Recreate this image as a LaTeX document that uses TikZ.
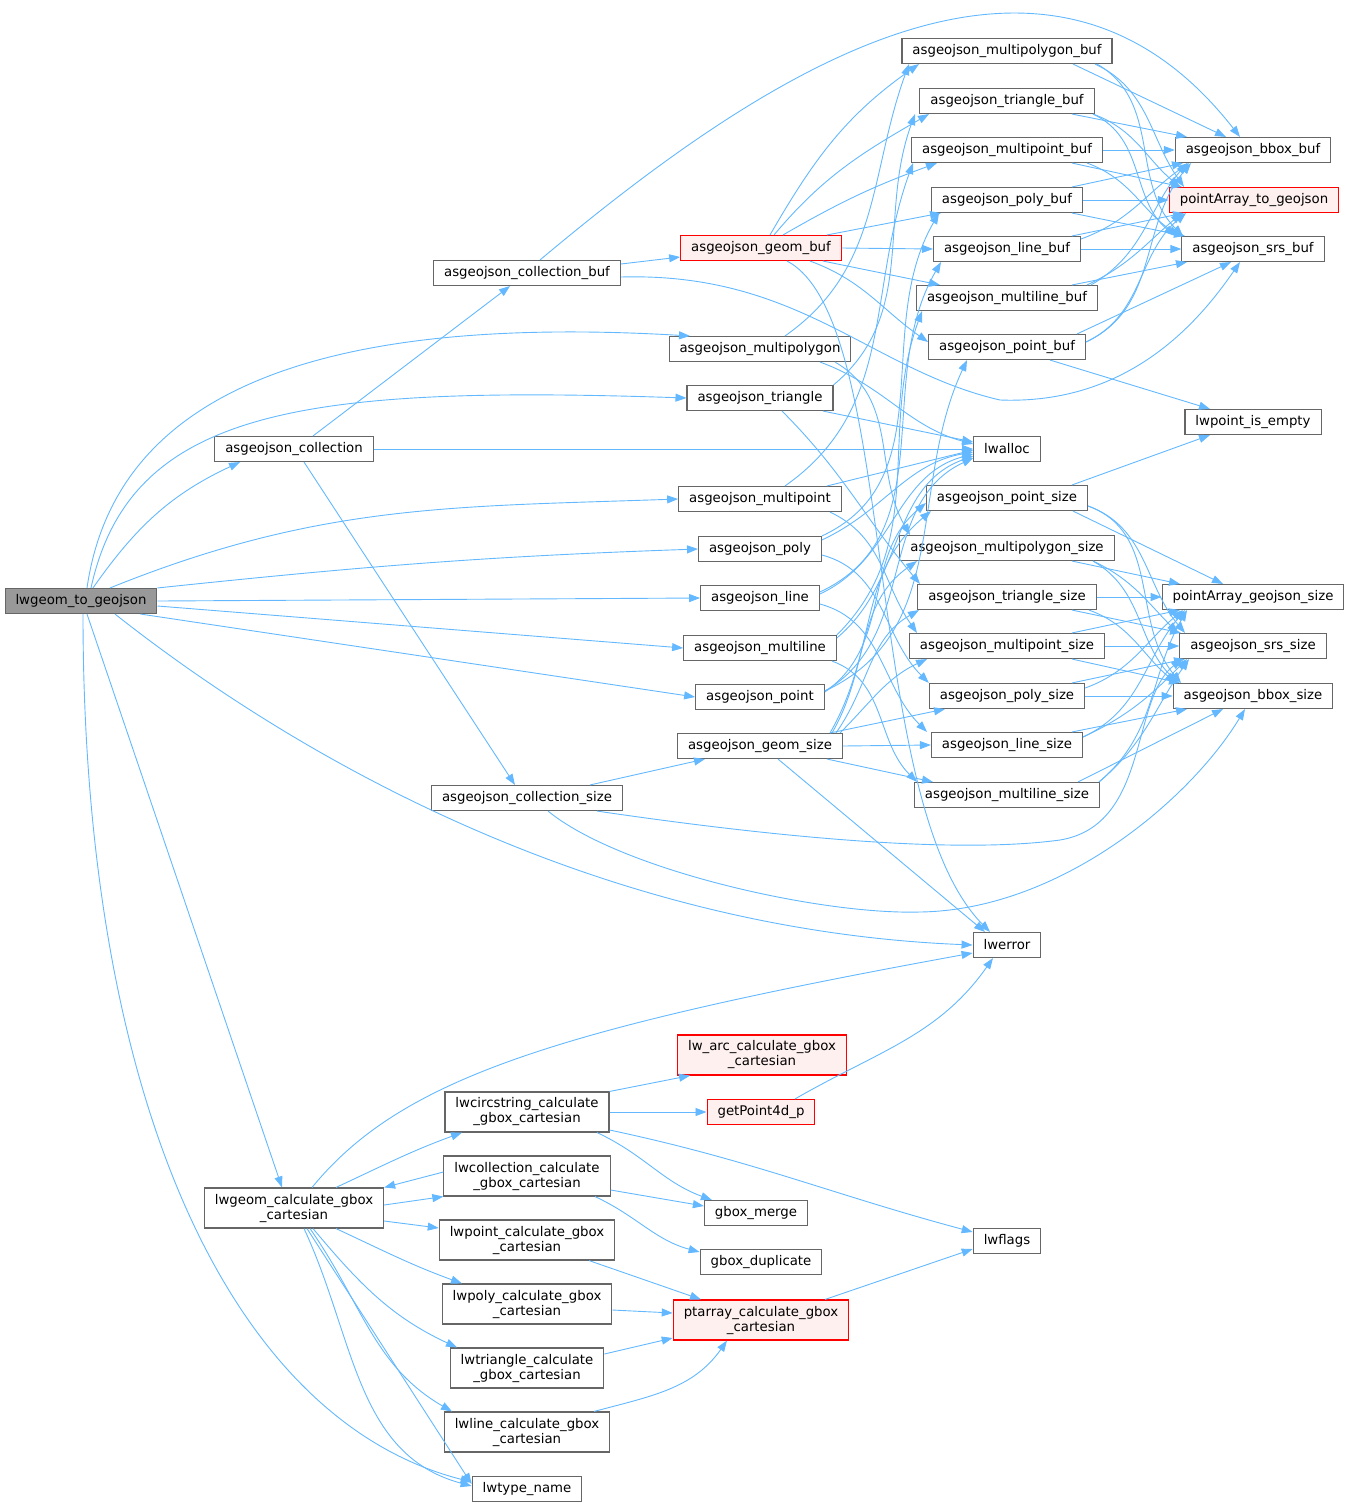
\documentclass[tikz,border=0pt]{standalone}
\usepackage{fontspec}
\setmainfont{DejaVu Sans}
\usepackage{xcolor}
\usepackage{tikz}
\usetikzlibrary{arrows.meta,positioning}

\definecolor{edgeblue}{HTML}{63B8FF}
\definecolor{boxgrey}{HTML}{666666}
\definecolor{rootgrey}{HTML}{999999}
\definecolor{redfill}{HTML}{FFF0F0}

\begin{document}
\begin{tikzpicture}[
    x=1pt, y=1pt,
    box/.style={rectangle, draw=boxgrey, fill=white, line width=1.1pt, minimum height=25pt, inner xsep=10.5pt, inner ysep=1pt, align=center, font={\fontsize{13.3pt}{15pt}\selectfont}},
    tallbox/.style={box, minimum height=40pt},
    redbox/.style={draw=red, fill=redfill},
    edge/.style={-{Triangle[length=11pt,width=8pt]}, draw=edgeblue, line width=0.9pt}
]
    \useasboundingbox (0,0) rectangle (1349,-1508);

    % left and middle column
    \node[box, fill=rootgrey] (root) at (81,-601) {lwgeom\_to\_geojson};
    \node[box] (coll) at (294,-449) {asgeojson\_collection};
    \node[box] (cbuf) at (527,-273) {asgeojson\_collection\_buf};
    \node[box] (csize) at (527,-798) {asgeojson\_collection\_size};
    \node[box, redbox] (gbuf) at (761,-248) {asgeojson\_geom\_buf};
    \node[box] (mpg) at (760,-349) {asgeojson\_multipolygon};
    \node[box] (tri) at (760,-398) {asgeojson\_triangle};
    \node[box] (mpt) at (760,-499) {asgeojson\_multipoint};
    \node[box] (poly) at (760,-549) {asgeojson\_poly};
    \node[box] (line) at (760,-598) {asgeojson\_line};
    \node[box] (mline) at (760,-648) {asgeojson\_multiline};
    \node[box] (pt) at (760,-697) {asgeojson\_point};
    \node[box] (gsize) at (760,-746) {asgeojson\_geom\_size};

    % buffer writers
    \node[box] (mpgbuf) at (1007,-51) {asgeojson\_multipolygon\_buf};
    \node[box] (tribuf) at (1007,-101) {asgeojson\_triangle\_buf};
    \node[box] (mptbuf) at (1007,-150) {asgeojson\_multipoint\_buf};
    \node[box] (polybuf) at (1007,-200) {asgeojson\_poly\_buf};
    \node[box] (linebuf) at (1007,-249) {asgeojson\_line\_buf};
    \node[box] (mlbuf) at (1007,-298) {asgeojson\_multiline\_buf};
    \node[box] (ptbuf) at (1007,-347) {asgeojson\_point\_buf};
    \node[box] (lwalloc) at (1007,-449) {lwalloc};

    % size estimators
    \node[box] (ptsize) at (1007,-498) {asgeojson\_point\_size};
    \node[box] (mpgsize) at (1007,-548) {asgeojson\_multipolygon\_size};
    \node[box] (trisize) at (1007,-597) {asgeojson\_triangle\_size};
    \node[box] (mptsize) at (1007,-646) {asgeojson\_multipoint\_size};
    \node[box] (polysize) at (1007,-696) {asgeojson\_poly\_size};
    \node[box] (linesize) at (1007,-745) {asgeojson\_line\_size};
    \node[box] (mlsize) at (1007,-795) {asgeojson\_multiline\_size};
    \node[box] (lwerror) at (1007,-945) {lwerror};

    % right column
    \node[box] (bboxbuf) at (1253,-150) {asgeojson\_bbox\_buf};
    \node[box, redbox] (pa2gj) at (1254,-200) {pointArray\_to\_geojson};
    \node[box] (srsbuf) at (1253,-249) {asgeojson\_srs\_buf};
    \node[box] (isempty) at (1253,-422) {lwpoint\_is\_empty};
    \node[box] (pagjsize) at (1253,-597) {pointArray\_geojson\_size};
    \node[box] (srssize) at (1253,-646) {asgeojson\_srs\_size};
    \node[box] (bboxsize) at (1253,-696) {asgeojson\_bbox\_size};

    % gbox part
    \node[tallbox] (gcalc) at (294,-1208) {lwgeom\_calculate\_gbox\\\_cartesian};
    \node[tallbox] (circ) at (527,-1112) {lwcircstring\_calculate\\\_gbox\_cartesian};
    \node[tallbox] (lwcoll) at (527,-1176) {lwcollection\_calculate\\\_gbox\_cartesian};
    \node[tallbox] (lwpt) at (527,-1240) {lwpoint\_calculate\_gbox\\\_cartesian};
    \node[tallbox] (lwpoly) at (527,-1304) {lwpoly\_calculate\_gbox\\\_cartesian};
    \node[tallbox] (lwtri) at (527,-1368) {lwtriangle\_calculate\\\_gbox\_cartesian};
    \node[tallbox] (lwline) at (527,-1432) {lwline\_calculate\_gbox\\\_cartesian};
    \node[box] (typename) at (527,-1489) {lwtype\_name};
    \node[tallbox, redbox] (arc) at (762,-1055) {lw\_arc\_calculate\_gbox\\\_cartesian};
    \node[box, redbox] (getpt) at (761,-1112) {getPoint4d\_p};
    \node[box] (merge) at (756,-1213) {gbox\_merge};
    \node[box] (dup) at (761,-1262) {gbox\_duplicate};
    \node[tallbox, redbox] (ptarr) at (761,-1320) {ptarray\_calculate\_gbox\\\_cartesian};
    \node[box] (lwflags) at (1007,-1241) {lwflags};

    % calls of lwgeom_to_geojson
    \draw[edge] ([xshift=12pt]root.north) to[out=55,in=205] ([xshift=-54pt]coll.south);
    \draw[edge] ([xshift=6pt]root.north) .. controls (110,-430) and (250,-310) .. ([xshift=-70pt]mpg.north);
    \draw[edge] ([xshift=10pt]root.north) .. controls (130,-410) and (300,-385) .. (tri.west);
    \draw[edge] ([xshift=29pt]root.north) to[out=22,in=182] (mpt.west);
    \draw[edge] (root.north east) to[out=6,in=182] (poly.west);
    \draw[edge] (root.east) -- (line.west);
    \draw[edge] ([yshift=-5pt]root.east) -- (mline.west);
    \draw[edge] ([xshift=-17pt]root.south east) -- (pt.west);
    \draw[edge] ([xshift=34pt]root.south) .. controls (300,-760) and (600,-930) .. (lwerror.west);
    \draw[edge] ([xshift=6pt]root.south) -- ([xshift=-12pt]gcalc.north);
    \draw[edge] ([xshift=2pt]root.south) .. controls (83,-1100) and (230,-1420) .. ([yshift=7pt]typename.west);

    % collection
    \draw[edge] ([xshift=19pt]coll.north) -- ([xshift=-17pt]cbuf.south);
    \draw[edge] (coll.east) -- (lwalloc.west);
    \draw[edge] ([xshift=10pt]coll.south) -- ([xshift=-12pt]csize.north);
    \draw[edge] ([yshift=9pt]cbuf.east) -- ([yshift=-9pt]gbuf.west);
    \draw[edge] ([xshift=13pt]cbuf.north) to[out=40,in=128,looseness=1.12] ([xshift=-13pt]bboxbuf.north);
    \draw[edge] ([yshift=-4pt]cbuf.east) .. controls (800,-272) and (870,-370) .. (1000,-400) .. controls (1130,-405) and (1200,-320) .. ([xshift=-13pt]srsbuf.south);

    % geom_buf
    \draw[edge] ([xshift=9pt]gbuf.north) to[out=60,in=215] ([xshift=-88pt]mpgbuf.south);
    \draw[edge] ([xshift=13pt]gbuf.north) to[out=50,in=210] ([xshift=-78pt]tribuf.south);
    \draw[edge] ([xshift=22pt]gbuf.north) to[out=30,in=200] ([xshift=-70pt]mptbuf.south);
    \draw[edge] ([xshift=66pt]gbuf.north) -- ([xshift=-66pt]polybuf.south);
    \draw[edge] (gbuf.east) -- (linebuf.west);
    \draw[edge] ([xshift=62pt]gbuf.south) -- ([xshift=-67pt]mlbuf.north);
    \draw[edge] ([xshift=49pt]gbuf.south) to[out=-20,in=145] ([yshift=5pt]ptbuf.west);
    \draw[edge] ([xshift=26pt]gbuf.south) .. controls (900,-320) and (860,-800) .. ([xshift=-17pt]lwerror.north);

    % buffer writers to helpers
    \draw[edge] ([xshift=66pt]mpgbuf.south) -- ([xshift=-27pt]bboxbuf.north);
    \draw[edge] ([xshift=88pt]mpgbuf.south) to[out=-25,in=125] ([xshift=-70pt]pa2gj.north);
    \draw[edge] ([xshift=90pt]mpgbuf.south) to[out=-30,in=135] ([xshift=-70pt]srsbuf.north);
    \draw[edge] ([xshift=65pt]tribuf.south) -- ([xshift=-66pt]bboxbuf.north);
    \draw[edge] ([xshift=86pt]tribuf.south) to[out=-20,in=140] ([xshift=-74pt]pa2gj.north);
    \draw[edge] ([xshift=86pt]tribuf.south) to[out=-25,in=140] ([xshift=-78pt]srsbuf.north);
    \draw[edge] (mptbuf.east) -- (bboxbuf.west);
    \draw[edge] ([xshift=65pt]mptbuf.south) -- ([xshift=-72pt]pa2gj.north);
    \draw[edge] ([xshift=80pt]mptbuf.south) to[out=-20,in=145] ([xshift=-74pt]srsbuf.north);
    \draw[edge] ([xshift=65pt]polybuf.north) -- ([xshift=-70pt]bboxbuf.south);
    \draw[edge] (polybuf.east) -- (pa2gj.west);
    \draw[edge] ([xshift=65pt]polybuf.south) -- ([xshift=-68pt]srsbuf.north);
    \draw[edge] ([yshift=10pt]linebuf.east) to[out=20,in=215] ([xshift=-64pt]bboxbuf.south);
    \draw[edge] ([xshift=65pt]linebuf.north) -- ([xshift=-70pt]pa2gj.south);
    \draw[edge] (linebuf.east) -- (srsbuf.west);
    \draw[edge] ([xshift=84pt]mlbuf.north) to[out=30,in=230] ([xshift=-66pt]bboxbuf.south);
    \draw[edge] ([xshift=80pt]mlbuf.north) to[out=25,in=220] ([xshift=-72pt]pa2gj.south);
    \draw[edge] ([xshift=65pt]mlbuf.north) -- ([xshift=-66pt]srsbuf.south);
    \draw[edge] ([yshift=5pt]ptbuf.east) to[out=25,in=230] ([xshift=-62pt]bboxbuf.south);
    \draw[edge] ([yshift=5pt]ptbuf.east) to[out=25,in=220] ([xshift=-68pt]pa2gj.south);
    \draw[edge] ([xshift=70pt]ptbuf.north) -- ([xshift=-22pt]srsbuf.south);
    \draw[edge] ([xshift=43pt]ptbuf.south) -- ([xshift=-43pt]isempty.north);

    % single geometry writers
    \draw[edge] ([xshift=25pt]mpg.north) to[out=35,in=250] ([xshift=-98pt]mpgbuf.south);
    \draw[edge] ([xshift=60pt]mpg.south) to[out=-20,in=165] ([yshift=5pt]lwalloc.west);
    \draw[edge] ([xshift=75pt]mpg.south) to[out=-30,in=120] ([xshift=-97pt]mpgsize.north);
    \draw[edge] (tri.north east) to[out=40,in=250] ([xshift=-92pt]tribuf.south);
    \draw[edge] ([xshift=63pt]tri.south) -- ([yshift=7pt]lwalloc.west);
    \draw[edge] ([xshift=22pt]tri.south) to[out=-45,in=130] ([xshift=-87pt]trisize.north);
    \draw[edge] ([xshift=25pt]mpt.north) to[out=35,in=250] ([xshift=-94pt]mptbuf.south);
    \draw[edge] ([xshift=67pt]mpt.north) -- ([yshift=-1pt]lwalloc.west);
    \draw[edge] ([xshift=70pt]mpt.south) to[out=-25,in=125] ([xshift=-90pt]mptsize.north);
    \draw[edge] (poly.north east) to[out=25,in=240] ([xshift=-68pt]polybuf.south);
    \draw[edge] ([yshift=-4pt]poly.north east) to[out=25,in=190] ([yshift=-3pt]lwalloc.west);
    \draw[edge] ([yshift=-6pt]poly.east) to[out=-15,in=135] (polysize.north west);
    \draw[edge] ([yshift=6pt]line.east) to[out=25,in=240] ([xshift=-66pt]linebuf.south);
    \draw[edge] ([yshift=4pt]line.east) to[out=25,in=195] ([yshift=-5pt]lwalloc.west);
    \draw[edge] ([yshift=-6pt]line.east) to[out=-15,in=135] ([xshift=-80pt]linesize.north);
    \draw[edge] (mline.north east) to[out=45,in=250] ([xshift=-85pt]mlbuf.south);
    \draw[edge] ([yshift=-3pt]mline.north east) to[out=40,in=200] ([yshift=-7pt]lwalloc.west);
    \draw[edge] ([xshift=72pt]mline.south) to[out=-20,in=135] ([xshift=-90pt]mlsize.north);
    \draw[edge] ([yshift=6pt]pt.east) to[out=25,in=245] ([xshift=-40pt]ptbuf.south);
    \draw[edge] ([yshift=6pt]pt.east) to[out=30,in=205] ([yshift=-9pt]lwalloc.west);
    \draw[edge] ([yshift=5pt]pt.east) to[out=35,in=220] ([yshift=-5pt]ptsize.west);

    % geom_size
    \draw[edge] ([xshift=70pt]gsize.north) to[out=60,in=220] ([xshift=-76pt]ptsize.south);
    \draw[edge] ([xshift=72pt]gsize.north) to[out=60,in=215] ([xshift=-90pt]mpgsize.south);
    \draw[edge] ([xshift=76pt]gsize.north) to[out=55,in=210] ([xshift=-88pt]trisize.south);
    \draw[edge] ([xshift=80pt]gsize.north) to[out=45,in=205] ([xshift=-80pt]mptsize.south);
    \draw[edge] ([xshift=70pt]gsize.north) -- ([xshift=-62pt]polysize.south);
    \draw[edge] (gsize.east) -- (linesize.west);
    \draw[edge] ([xshift=67pt]gsize.south) -- ([xshift=-74pt]mlsize.north);
    \draw[edge] ([xshift=18pt]gsize.south) -- ([xshift=-22pt]lwerror.north);

    % size estimators to helpers
    \draw[edge] ([xshift=66pt]ptsize.south) -- ([xshift=-30pt]pagjsize.north);
    \draw[edge] ([yshift=-8pt]ptsize.east) to[out=-20,in=130] ([xshift=-68pt]srssize.north);
    \draw[edge] ([yshift=-8pt]ptsize.east) to[out=-20,in=130] ([xshift=-72pt]bboxsize.north);
    \draw[edge] ([xshift=65pt]ptsize.north) -- ([xshift=-43pt]isempty.south);
    \draw[edge] ([xshift=65pt]mpgsize.south) -- ([xshift=-73pt]pagjsize.north);
    \draw[edge] ([xshift=86pt]mpgsize.south) to[out=-25,in=135] ([xshift=-75pt]srssize.north);
    \draw[edge] ([xshift=86pt]mpgsize.south) to[out=-30,in=135] ([xshift=-75pt]bboxsize.north);
    \draw[edge] (trisize.east) -- (pagjsize.west);
    \draw[edge] ([xshift=65pt]trisize.south) -- ([xshift=-72pt]srssize.north);
    \draw[edge] ([xshift=82pt]trisize.south) to[out=-20,in=140] ([xshift=-77pt]bboxsize.north);
    \draw[edge] ([xshift=65pt]mptsize.north) -- ([xshift=-73pt]pagjsize.south);
    \draw[edge] (mptsize.east) -- (srssize.west);
    \draw[edge] ([xshift=65pt]mptsize.south) -- ([xshift=-73pt]bboxsize.north);
    \draw[edge] ([yshift=8pt]polysize.east) to[out=20,in=220] ([xshift=-70pt]pagjsize.south);
    \draw[edge] ([xshift=65pt]polysize.north) -- ([xshift=-68pt]srssize.south);
    \draw[edge] (polysize.east) -- (bboxsize.west);
    \draw[edge] ([yshift=8pt]linesize.east) to[out=25,in=230] ([xshift=-68pt]pagjsize.south);
    \draw[edge] ([yshift=8pt]linesize.east) to[out=25,in=225] ([xshift=-66pt]srssize.south);
    \draw[edge] ([xshift=65pt]linesize.north) -- ([xshift=-66pt]bboxsize.south);
    \draw[edge] ([xshift=92pt]mlsize.north) to[out=40,in=240] ([xshift=-66pt]pagjsize.south);
    \draw[edge] ([xshift=92pt]mlsize.north) to[out=40,in=235] ([xshift=-64pt]srssize.south);
    \draw[edge] ([xshift=71pt]mlsize.north) -- ([xshift=-30pt]bboxsize.south);

    % collection_size
    \draw[edge] ([xshift=63pt]csize.north) -- ([xshift=-55pt]gsize.south);
    \draw[edge] ([xshift=70pt]csize.south) .. controls (760,-835) and (950,-855) .. (1060,-840) .. controls (1150,-825) and (1130,-700) .. ([xshift=-71pt]srssize.south);
    \draw[edge] ([xshift=21pt]csize.south) .. controls (620,-870) and (820,-915) .. (920,-912) .. controls (1060,-910) and (1190,-800) .. ([xshift=-8pt]bboxsize.south);

    % gbox calculation
    \draw[edge] ([xshift=18pt]gcalc.north) .. controls (400,-1080) and (550,-1030) .. ([yshift=-8pt]lwerror.west);
    \draw[edge] ([xshift=42pt]gcalc.north) to[out=25,in=200] ([xshift=-65pt]circ.south);
    \draw[edge] ([yshift=4pt]lwcoll.west) -- (gcalc.north east);
    \draw[edge] ([yshift=3pt]gcalc.east) -- (lwcoll.south west);
    \draw[edge] ([yshift=-13pt]gcalc.east) -- ([yshift=12pt]lwpt.west);
    \draw[edge] ([xshift=42pt]gcalc.south) to[out=-25,in=160] ([xshift=-65pt]lwpoly.north);
    \draw[edge] ([xshift=19pt]gcalc.south) to[out=-50,in=155] ([xshift=-70pt]lwtri.north);
    \draw[edge] ([xshift=16pt]gcalc.south) to[out=-55,in=150] ([xshift=-75pt]lwline.north);
    \draw[edge] ([xshift=10pt]gcalc.south) to[out=-65,in=165] ([yshift=3pt]typename.west);
    \draw[edge] ([xshift=13pt]gcalc.south) -- ([yshift=5pt]typename.west);
    \draw[edge] (circ.north east) -- ([xshift=13pt]arc.south west);
    \draw[edge] (circ.east) -- (getpt.west);
    \draw[edge] ([xshift=70pt]circ.south) to[out=-25,in=160] ([xshift=8pt]merge.north west);
    \draw[edge] ([yshift=-18pt]circ.east) to[out=-12,in=165] ([yshift=9pt]lwflags.west);
    \draw[edge] ([xshift=34pt]getpt.north) to[out=30,in=235] ([xshift=-14pt]lwerror.south);
    \draw[edge] ([yshift=-14pt]lwcoll.east) -- ([yshift=7pt]merge.west);
    \draw[edge] ([xshift=68pt]lwcoll.south) to[out=-25,in=165] ([yshift=10pt]dup.west);
    \draw[edge] ([xshift=62pt]lwpt.south) -- ([xshift=-60pt]ptarr.north);
    \draw[edge] ([yshift=-6pt]lwpoly.east) -- ([yshift=7pt]ptarr.west);
    \draw[edge] ([yshift=14pt]lwtri.east) -- ([yshift=-18pt]ptarr.west);
    \draw[edge] ([xshift=67pt]lwline.north) to[out=15,in=235] ([xshift=-34pt]ptarr.south);
    \draw[edge] ([xshift=64pt]ptarr.north) -- ([yshift=-8pt]lwflags.west);
\end{tikzpicture}
\end{document}
